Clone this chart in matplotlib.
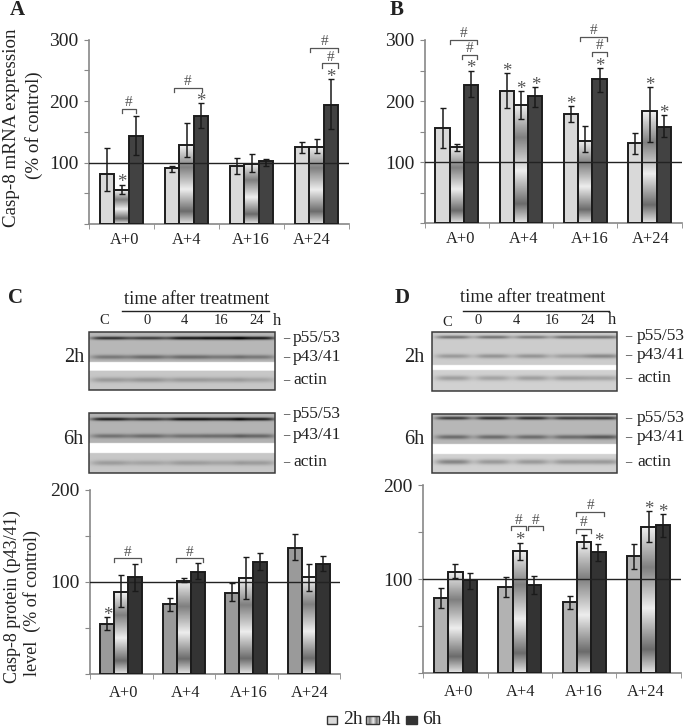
import matplotlib
matplotlib.use("Agg")
import matplotlib.pyplot as plt
import numpy as np
from matplotlib.patches import Rectangle
from matplotlib.transforms import ScaledTranslation

plt.rcParams['font.family'] = ['Liberation Serif', 'DejaVu Serif']

W, H = 685, 728

groups = ["A+0", "A+4", "A+16", "A+24"]

# bar heights, then the top and bottom of each error bar
a_2h = [82, 90.5, 95, 126]
a_4h = [55, 128, 98, 126]
a_6h = [143, 176, 102, 194]
a_top = [[124, 95, 108, 133], [64, 164, 114, 139], [175, 196, 106, 236]]
a_bot = [[53, 84, 81, 116], [49, 109, 85, 116], [113, 156, 94, 155]]

b_2h = [156.5, 216.5, 179, 131]
b_4h = [125, 194, 135, 183]
b_6h = [227, 208, 236, 158]
b_top = [[189, 246, 192, 148], [129, 216, 159, 223], [250, 223, 254, 177]]
b_bot = [[124, 189, 166, 114], [118, 170, 116, 133], [206, 191, 215, 141]]

c_2h = [54.6, 75.6, 88, 136.7]
c_4h = [89, 101.6, 104, 105]
c_6h = [105, 111, 121.5, 120]
c_top = [[61.5, 83, 99, 152], [108, 104, 127, 120], [120, 120.4, 131, 128]]
c_bot = [[47.7, 68, 79, 124], [73, 99.6, 82, 90], [90, 103.6, 113.5, 112]]

d_2h = [80, 91.5, 76, 125]
d_4h = [108, 130.5, 140, 156]
d_6h = [99.3, 94, 129, 157.4]
d_top = [[90.5, 102, 82, 138], [116, 139, 147, 172.7], [107, 103.5, 138, 169]]
d_bot = [[69, 81, 68, 110.6], [101, 120.5, 133.7, 140], [90, 84, 119.5, 145]]

# significance marks: (group, bar)
a_stars = [(0, 1), (1, 2), (3, 2)]
b_stars = [(0, 2), (1, 0), (1, 1), (1, 2), (2, 0), (2, 2), (3, 1), (3, 2)]
c_stars = [(0, 0)]
d_stars = [(1, 1), (2, 2), (3, 1), (3, 2)]

# brackets: (group, from bar, to bar, height)
a_hash = [(0, 1, 2, 187), (1, 0.1, 2.1, 221), (3, 0.55, 2.5, 286), (3, 1.4, 2.5, 261)]
b_hash = [(0, 0.5, 2.4, 300), (0, 1.35, 2.4, 276), (2, 0.6, 2.5, 305), (2, 1.45, 2.5, 281)]
c_hash = [(0, 0.45, 2.4, 126), (1, 0.45, 2.4, 126)]
d_hash = [(1, 0.35, 1.45, 157), (1, 1.6, 2.65, 157), (2, 0.45, 1.5, 154), (2, 0.45, 2.4, 172)]

# band strength per lane in the blots (C, 0, 4, 16, 24)
c2_bands = [[.55, .5, .65, .7, .65], [.25, .3, .3, .25, .25], [.18, .2, .18, .16, .14]]
c6_bands = [[.6, .5, .65, .6, .6], [.26, .28, .26, .28, .3], [.17, .14, .17, .14, .17]]
d2_bands = [[.36, .36, .32, .36, .36], [.2, .22, .22, .18, .27], [.2, .18, .2, .2, .18]]
d6_bands = [[.5, .55, .55, .5, .5], [.3, .3, .3, .3, .38], [.3, .22, .22, .22, .22]]

fig = plt.figure(figsize=(W / 100, H / 100), dpi=100)
fig.patch.set_facecolor("white")

# gradient of the 4h bars, from top to bottom of a bar
stops = [0, .28, .56, .84, 1]
shades = [.95, .5, .93, .42, .9]
grad = np.interp(np.linspace(0, 1, 200), stops, shades).reshape(-1, 1)


def px_axes(l, t, r, b):
    return fig.add_axes([l / W, 1 - b / H, (r - l) / W, (b - t) / H])


def panel(box, ymax, yticks, ylabels, vals, top, bot, col_2h, col_6h, stars, hashes, star_off, hash_off,
          label_pad, label_dx):
    ax = px_axes(*box)
    x = np.arange(len(groups))
    w = 0.222
    vals = np.array(vals, dtype=float)
    top = np.array(top, dtype=float)
    bot = np.array(bot, dtype=float)

    ax.bar(x - w, vals[0], w, color=col_2h, zorder=2)
    ax.bar(x + w, vals[2], w, color=col_6h, zorder=2)
    for xi, h in zip(x, vals[1]):
        ax.imshow(grad, extent=[xi - w / 2, xi + w / 2, 0, h], aspect="auto", cmap="gray",
                  vmin=0, vmax=1, zorder=2)
    for i in range(3):
        ax.bar(x + (i - 1) * w, vals[i], w, fill=False, edgecolor="#1c1c1c", linewidth=1.4, zorder=3)
        ax.errorbar(x + (i - 1) * w, vals[i], yerr=[vals[i] - bot[i], top[i] - vals[i]], fmt="none",
                    ecolor="#1a1a1a", elinewidth=1.1, capsize=2.2, capthick=1.0, zorder=5)

    ax.axhline(100, color="#222222", linewidth=1.0, zorder=4)

    ax.set_xlim(-0.5, 3.5)
    ax.set_ylim(0, ymax)
    ax.set_xticks(x, groups)
    ax.set_xticks(np.arange(-0.5, 4, 1), minor=True)
    ax.tick_params(axis="x", which="major", length=0, labelsize=11.8, pad=label_pad, colors="#222222")
    ax.tick_params(axis="x", which="minor", length=3.5, color="#888888")
    for lab, dx in zip(ax.get_xticklabels(), label_dx):
        lab.set_transform(lab.get_transform() + ScaledTranslation(dx / 100, 0, fig.dpi_scale_trans))
    ax.set_yticks(yticks, ylabels)
    ax.tick_params(axis="y", length=3.5, color="#888888", labelsize=14, pad=4, labelcolor="#222222")
    for s in ["top", "right"]:
        ax.spines[s].set_visible(False)
    for s in ["left", "bottom"]:
        ax.spines[s].set_color("#888888")
        ax.spines[s].set_linewidth(1.2)

    for g, b in stars:
        ax.text(g + (b - 1) * w, top[b][g] + star_off, "*", ha="center", va="center", fontsize=13.5,
                color="#555555", zorder=6)
    for g, i, j, y in hashes:
        x0 = g + (i - 1) * w
        x1 = g + (j - 1) * w
        d = ymax * 0.022
        ax.plot([x0, x0, x1, x1], [y - d, y, y, y - d], color="#555555", linewidth=0.9, clip_on=False, zorder=6)
        ax.text((x0 + x1) / 2, y + hash_off, "#", ha="center", va="center", fontsize=11,
                color="#555555", clip_on=False, zorder=6)
    return ax


panel((89, 39.5, 349, 224), 300, [0, 50, 100, 150, 200, 250, 300], ["", "", "100", "", "200", "", "300"],
      [a_2h, a_4h, a_6h], a_top, a_bot, "#d9d9d9", "#424242", a_stars, a_hash, 3, 10,
      5.4, [3.5, 0.5, -0.5, -4.5])
panel((424.7, 40, 681.7, 223.3), 300, [0, 50, 100, 150, 200, 250, 300], ["", "", "100", "", "200", "", "300"],
      [b_2h, b_4h, b_6h], b_top, b_bot, "#d9d9d9", "#424242", b_stars, b_hash, 3, 10,
      5.4, [4, 3, 4, 0.7])
panel((90, 490, 340, 674), 200, [0, 50, 100, 150, 200], ["", "", "100", "", "200"],
      [c_2h, c_4h, c_6h], c_top, c_bot, "#9a9a9a", "#333333", c_stars, c_hash, 2, 6,
      8, [2, 1.5, 2, 0.5])
panel((423.3, 485.3, 680.7, 673.3), 200, [0, 50, 100, 150, 200], ["", "", "100", "", "200"],
      [d_2h, d_4h, d_6h], d_top, d_bot, "#b2b2b2", "#333333", d_stars, d_hash, 2, 6,
      8, [3.5, 1, 0, -3])

# everything placed by pixel: blots, panel letters, side labels, legend
ov = fig.add_axes([0, 0, 1, 1], zorder=10)
ov.patch.set_alpha(0)
ov.axis("off")


def blot(x0, y0, x1, y1, gap0, gap1, rows, bands, lanes, lane_w, bg_top, bg_bot):
    ny = int(round(y1 - y0)) * 3
    nx = int(round(x1 - x0)) * 3
    yy = np.linspace(y0, y1, ny)
    xx = np.linspace(0, 1, nx)
    img = np.where(yy < gap0, bg_top, bg_bot)[:, None] * np.ones((ny, nx))
    for row, amps, sig in zip(rows, bands, [1.6, 2.2, 2.6]):
        prof = np.exp(-((yy - row) / sig) ** 2)
        for c, amp in zip(lanes, amps):
            img -= amp * prof[:, None] * np.exp(-((xx - c) / lane_w) ** 4)[None, :]
    img[(yy >= gap0) & (yy < gap1), :] = 1
    ov.imshow(np.clip(img, 0, 1), extent=[x0, x1, y1, y0], aspect="auto", cmap="gray", vmin=0, vmax=1,
              interpolation="bilinear")
    ov.add_patch(Rectangle((x0, y0), x1 - x0, y1 - y0, fill=False, edgecolor="#3a3a3a", linewidth=1.1))


c_lanes = [.115, .32, .53, .72, .9]
d_lanes = [.115, .33, .54, .745, .92]
blot(89, 332, 275, 390, 362, 370.7, [338, 357, 380], c2_bands, c_lanes, .105, .72, .78)
blot(89, 413, 275, 473, 443, 453, [419, 436, 463], c6_bands, c_lanes, .105, .70, .78)
blot(432, 332, 617, 390.7, 364.7, 370, [337, 356, 378], d2_bands, d_lanes, .095, .80, .82)
blot(432, 414, 617, 473, 444, 454, [418, 437, 462], d6_bands, d_lanes, .095, .72, .82)
ov.set_xlim(0, W)
ov.set_ylim(H, 0)


def t(x, y, s, **kw):
    kw.setdefault("ha", "center")
    kw.setdefault("va", "center")
    kw.setdefault("color", "#222222")
    ov.text(x, y, s, **kw)


for x, y, s in [(17, 10, "A"), (397, 10, "B"), (16, 298, "C"), (402, 298, "D")]:
    t(x, y, s, fontsize=15, fontweight="bold")

t(12, 128, "Casp-8 mRNA expression", rotation=90, fontsize=13.7)
t(34, 125, "(% of control)", rotation=90, fontsize=13.7)
t(12, 597, "Casp-8 protein (p43/41)", rotation=90, fontsize=13)
t(32, 603, "level  (% of control)", rotation=90, fontsize=13)

t(197, 299, "time after treatment", fontsize=13.2)
ov.plot([122, 269], [310.7, 310.7], color="#222222", linewidth=1)
t(533, 298, "time after treatment", fontsize=13.2)
ov.plot([462.7, 609], [310.7, 310.7], color="#222222", linewidth=1)

for x, s in zip([104, 147, 184, 221, 257, 277], ["C", "0", "4", "16", "24", "h"]):
    t(x, 321, s, fontsize=10.5 if s != "h" else 12)
for x, y, s in zip([447, 478, 516, 552, 588, 612], [323, 321, 321, 321, 321, 320], ["C", "0", "4", "16", "24", "h"]):
    t(x, y, s, fontsize=10.5 if s != "h" else 12)

for x, y, s in [(84, 357, "2h"), (83, 440, "6h"), (424, 357, "2h"), (424, 439, "6h")]:
    t(x, y, s, ha="right", fontsize=14.5)

side = ["p55/53", "p43/41", "actin"]
for x, off, ys in [(283, 10, [338, 357, 380]), (283, 10, [414, 435, 462]),
                   (625, 12, [336, 355, 378]), (625, 12, [418, 437, 462])]:
    for y, s in zip(ys, side):
        t(x, y, "\u2013", ha="left", fontsize=9)
        t(x + off, y, s, ha="left", fontsize=12.5)

# legend at the bottom
ov.add_patch(Rectangle((327, 716), 10, 8, facecolor="#d9d9d9", edgecolor="#333333", linewidth=1))
ov.imshow(grad.T, extent=[366, 379, 724, 716], aspect="auto", cmap="gray", vmin=0, vmax=1)
ov.add_patch(Rectangle((366, 716), 13, 8, fill=False, edgecolor="#333333", linewidth=1))
ov.add_patch(Rectangle((406, 716), 11, 8, facecolor="#333333", edgecolor="#333333", linewidth=1))
ov.set_xlim(0, W)
ov.set_ylim(H, 0)
for x, s in [(343, "2h"), (382, "4h"), (422, "6h")]:
    t(x, 720, s, ha="left", fontsize=14)

fig.savefig("out.png", dpi=100)
plt.close(fig)
